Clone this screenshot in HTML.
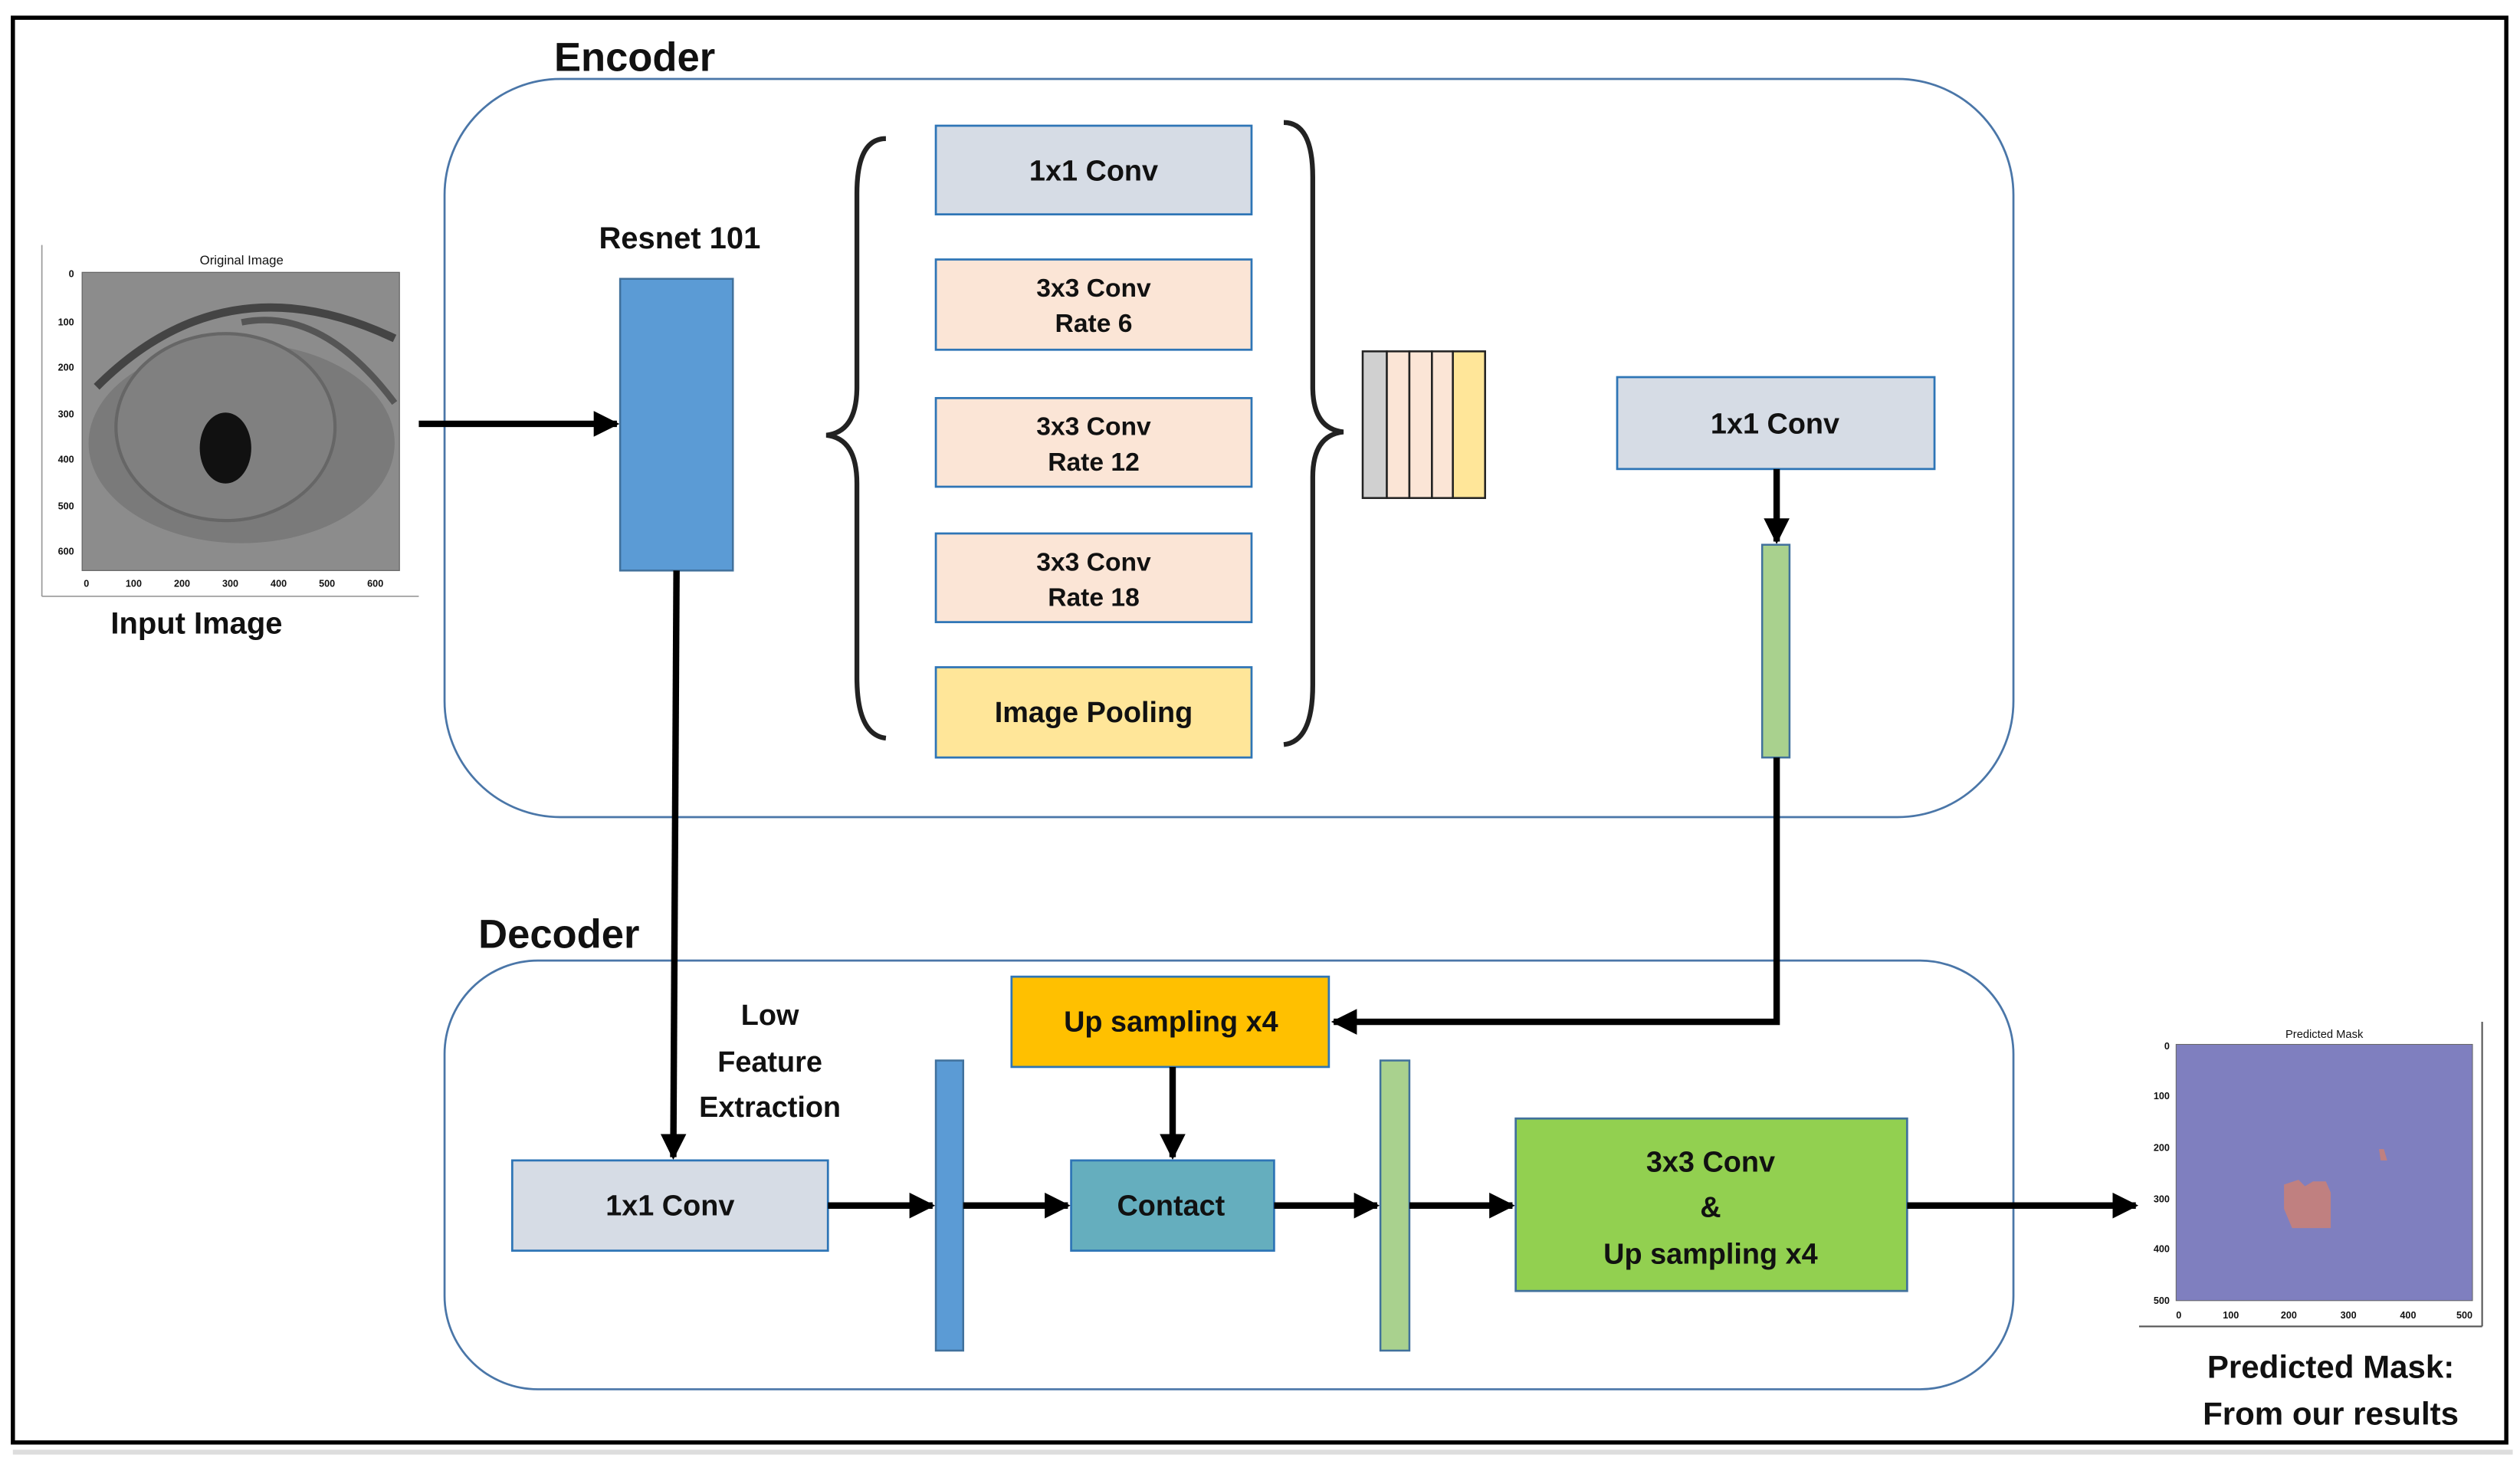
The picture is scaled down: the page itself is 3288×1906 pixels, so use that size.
<!DOCTYPE html>
<html><head><meta charset="utf-8"><style>
html,body{margin:0;padding:0;background:#fff;}
svg{display:block;}
text{font-family:"Liberation Sans",sans-serif;font-weight:bold;fill:#111;}
</style></head><body>
<svg width="3288" height="1906" viewBox="0 0 1564.5 906.5" preserveAspectRatio="none" xmlns="http://www.w3.org/2000/svg">
<defs>
<marker id="ah" viewBox="0 0 10 10" refX="9" refY="5" markerWidth="4" markerHeight="4" orient="auto" markerUnits="strokeWidth">
<path d="M0,0 L10,5 L0,10 z" fill="#000"/></marker>
</defs>
<rect x="0" y="0" width="1564.5" height="906.5" fill="#fff"/>
<rect x="8" y="11" width="1548" height="884" fill="none" stroke="#000" stroke-width="2.6"/>
<line x1="8" y1="901" x2="1560" y2="901" stroke="#ddd" stroke-width="3"/>

<!-- Encoder / Decoder containers -->
<rect x="276" y="49" width="974" height="458" rx="72" fill="none" stroke="#4a76a8" stroke-width="1.3"/>
<text x="344" y="44" font-size="25">Encoder</text>
<rect x="276" y="596" width="974" height="266" rx="58" fill="none" stroke="#4a76a8" stroke-width="1.3"/>
<text x="297" y="588" font-size="25">Decoder</text>

<!-- Input image -->
<line x1="26" y1="152" x2="26" y2="370" stroke="#999" stroke-width="0.8"/>
<line x1="26" y1="370" x2="260" y2="370" stroke="#999" stroke-width="0.8"/>
<text x="150" y="164" font-size="8" font-weight="normal" text-anchor="middle" fill="#666" style="font-weight:normal">Original Image</text>
<rect x="51" y="169" width="197" height="185" fill="#8c8c8c" stroke="#666" stroke-width="0.6"/>
<ellipse cx="150" cy="275" rx="95" ry="62" fill="#7a7a7a"/>
<ellipse cx="140" cy="265" rx="68" ry="58" fill="#808080" stroke="#666" stroke-width="2"/>
<path d="M60 240 Q140 160 245 210" stroke="#444" stroke-width="5" fill="none"/>
<path d="M150 200 Q200 190 245 250" stroke="#555" stroke-width="4" fill="none"/>
<ellipse cx="140" cy="278" rx="16" ry="22" fill="#111"/>
<g font-size="6" fill="#777" style="font-weight:normal">
<text x="46" y="172" text-anchor="end">0</text><text x="46" y="202" text-anchor="end">100</text><text x="46" y="230" text-anchor="end">200</text><text x="46" y="259" text-anchor="end">300</text><text x="46" y="287" text-anchor="end">400</text><text x="46" y="316" text-anchor="end">500</text><text x="46" y="344" text-anchor="end">600</text>
<text x="52" y="364">0</text><text x="78" y="364">100</text><text x="108" y="364">200</text><text x="138" y="364">300</text><text x="168" y="364">400</text><text x="198" y="364">500</text><text x="228" y="364">600</text>
</g>
<text x="122" y="393" font-size="19" text-anchor="middle">Input Image</text>

<!-- Resnet -->
<text x="422" y="154" font-size="19" text-anchor="middle">Resnet 101</text>
<rect x="385" y="173" width="70" height="181" fill="#5b9bd5" stroke="#41719c" stroke-width="1.2"/>
<line x1="260" y1="263" x2="383" y2="263" stroke="#000" stroke-width="4" marker-end="url(#ah)"/>

<!-- braces -->
<path d="M550 86 Q532 86 532 120 L532 240 Q532 268 513 270 Q532 272 532 300 L532 420 Q532 456 550 458" fill="none" stroke="#222" stroke-width="3"/>
<path d="M797 76 Q815 76 815 110 L815 240 Q815 266 834 268 Q815 270 815 296 L815 425 Q815 460 797 462" fill="none" stroke="#222" stroke-width="3"/>

<!-- ASPP boxes -->
<g stroke="#2e75b6" stroke-width="1.3">
<rect x="581" y="78" width="196" height="55" fill="#d6dce5"/>
<rect x="581" y="161" width="196" height="56" fill="#fbe5d6"/>
<rect x="581" y="247" width="196" height="55" fill="#fbe5d6"/>
<rect x="581" y="331" width="196" height="55" fill="#fbe5d6"/>
<rect x="581" y="414" width="196" height="56" fill="#ffe699"/>
</g>
<text x="679" y="112" font-size="18" text-anchor="middle">1x1 Conv</text>
<text x="679" y="184" font-size="16" text-anchor="middle">3x3 Conv</text><text x="679" y="206" font-size="16" text-anchor="middle">Rate 6</text>
<text x="679" y="270" font-size="16" text-anchor="middle">3x3 Conv</text><text x="679" y="292" font-size="16" text-anchor="middle">Rate 12</text>
<text x="679" y="354" font-size="16" text-anchor="middle">3x3 Conv</text><text x="679" y="376" font-size="16" text-anchor="middle">Rate 18</text>
<text x="679" y="448" font-size="18" text-anchor="middle">Image Pooling</text>

<!-- concat stack -->
<g stroke="#222" stroke-width="1.2">
<rect x="846" y="218" width="15" height="91" fill="#d0d0d0"/>
<rect x="861" y="218" width="14" height="91" fill="#fbe5d6"/>
<rect x="875" y="218" width="14" height="91" fill="#fbe5d6"/>
<rect x="889" y="218" width="13" height="91" fill="#fbe5d6"/>
<rect x="902" y="218" width="20" height="91" fill="#ffe699"/>
</g>

<!-- right 1x1 conv -->
<rect x="1004" y="234" width="197" height="57" fill="#d6dce5" stroke="#2e75b6" stroke-width="1.3"/>
<text x="1102" y="269" font-size="18" text-anchor="middle">1x1 Conv</text>
<line x1="1103" y1="291" x2="1103" y2="336" stroke="#000" stroke-width="4" marker-end="url(#ah)"/>
<rect x="1094" y="338" width="17" height="132" fill="#a9d18e" stroke="#41719c" stroke-width="1.2"/>
<polyline points="1103,470 1103,634 828,634" fill="none" stroke="#000" stroke-width="4" marker-end="url(#ah)"/>

<!-- decoder -->
<rect x="628" y="606" width="197" height="56" fill="#ffc000" stroke="#2e75b6" stroke-width="1.3"/>
<text x="727" y="640" font-size="18" text-anchor="middle">Up sampling x4</text>
<line x1="728" y1="662" x2="728" y2="718" stroke="#000" stroke-width="4" marker-end="url(#ah)"/>
<rect x="665" y="720" width="126" height="56" fill="#65aebe" stroke="#2e75b6" stroke-width="1.3"/>
<text x="727" y="754" font-size="18" text-anchor="middle">Contact</text>

<line x1="420" y1="354" x2="418" y2="718" stroke="#000" stroke-width="4" marker-end="url(#ah)"/>
<rect x="318" y="720" width="196" height="56" fill="#d6dce5" stroke="#2e75b6" stroke-width="1.3"/>
<text x="416" y="754" font-size="18" text-anchor="middle">1x1 Conv</text>
<text x="478" y="636" font-size="18" text-anchor="middle">Low</text>
<text x="478" y="665" font-size="18" text-anchor="middle">Feature</text>
<text x="478" y="693" font-size="18" text-anchor="middle">Extraction</text>

<line x1="514" y1="748" x2="579" y2="748" stroke="#000" stroke-width="4" marker-end="url(#ah)"/>
<rect x="581" y="658" width="17" height="180" fill="#5b9bd5" stroke="#41719c" stroke-width="1.2"/>
<line x1="598" y1="748" x2="663" y2="748" stroke="#000" stroke-width="4" marker-end="url(#ah)"/>
<line x1="791" y1="748" x2="855" y2="748" stroke="#000" stroke-width="4" marker-end="url(#ah)"/>
<rect x="857" y="658" width="18" height="180" fill="#a9d18e" stroke="#41719c" stroke-width="1.2"/>
<line x1="875" y1="748" x2="939" y2="748" stroke="#000" stroke-width="4" marker-end="url(#ah)"/>
<rect x="941" y="694" width="243" height="107" fill="#92d050" stroke="#41719c" stroke-width="1.3"/>
<text x="1062" y="727" font-size="18" text-anchor="middle">3x3 Conv</text>
<text x="1062" y="755" font-size="18" text-anchor="middle">&amp;</text>
<text x="1062" y="784" font-size="18" text-anchor="middle">Up sampling x4</text>
<line x1="1184" y1="748" x2="1326" y2="748" stroke="#000" stroke-width="4" marker-end="url(#ah)"/>

<!-- predicted mask -->
<line x1="1541" y1="634" x2="1541" y2="823" stroke="#555" stroke-width="1"/>
<line x1="1328" y1="823" x2="1541" y2="823" stroke="#555" stroke-width="1"/>
<text x="1443" y="644" font-size="7" text-anchor="middle" fill="#666" style="font-weight:normal">Predicted Mask</text>
<rect x="1351" y="648" width="184" height="159" fill="#7f7fbf" stroke="#666" stroke-width="0.5"/>
<path d="M1418 735 L1427 732 L1431 736 L1436 733 L1444 733 L1447 740 L1447 762 L1423 762 L1418 750 z" fill="#c08080"/>
<path d="M1477 713 L1480 713 L1482 720 L1478 720 z" fill="#c08080"/>
<g font-size="6" fill="#777" style="font-weight:normal">
<text x="1347" y="651" text-anchor="end">0</text><text x="1347" y="682" text-anchor="end">100</text><text x="1347" y="714" text-anchor="end">200</text><text x="1347" y="746" text-anchor="end">300</text><text x="1347" y="777" text-anchor="end">400</text><text x="1347" y="809" text-anchor="end">500</text>
<text x="1351" y="818">0</text><text x="1380" y="818">100</text><text x="1416" y="818">200</text><text x="1453" y="818">300</text><text x="1490" y="818">400</text><text x="1525" y="818">500</text>
</g>
<text x="1447" y="855" font-size="20" text-anchor="middle">Predicted Mask:</text>
<text x="1447" y="884" font-size="20" text-anchor="middle">From our results</text>
</svg>
</body></html>
